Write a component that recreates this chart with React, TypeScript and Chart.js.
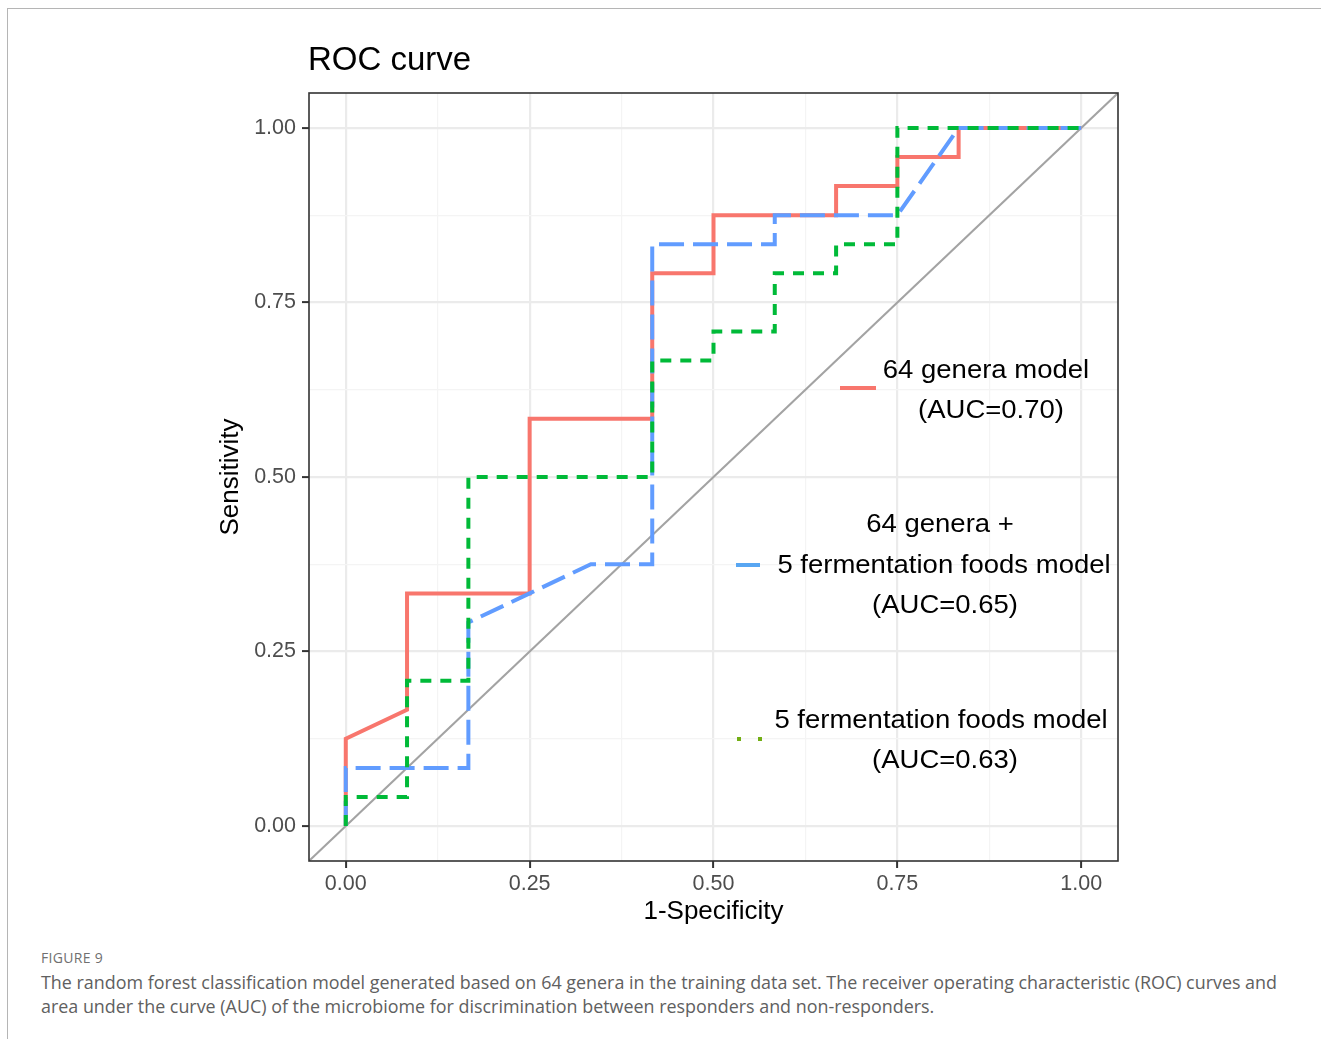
import React, { useEffect, useRef } from "react";
import { Chart, registerables } from "chart.js";

Chart.register(...registerables);

// ---- data ----
const genusFpr = [0, 0, 0.0833, 0.0833, 0.25, 0.25, 0.4167, 0.4167, 0.5, 0.5, 0.6667, 0.6667, 0.75, 0.75, 0.8333, 0.8333, 1];
const genusTpr = [0, 0.125, 0.1667, 0.3333, 0.3333, 0.5833, 0.5833, 0.7917, 0.7917, 0.875, 0.875, 0.9167, 0.9167, 0.9583, 0.9583, 1, 1];

const comboFpr = [0, 0, 0.1667, 0.1667, 0.25, 0.3333, 0.4167, 0.4167, 0.5833, 0.5833, 0.75, 0.8333, 1];
const comboTpr = [0, 0.0833, 0.0833, 0.2917, 0.3333, 0.375, 0.375, 0.8333, 0.8333, 0.875, 0.875, 1, 1];

const fermFpr = [0, 0, 0.0833, 0.0833, 0.1667, 0.1667, 0.4167, 0.4167, 0.5, 0.5, 0.5833, 0.5833, 0.6667, 0.6667, 0.75, 0.75, 1];
const fermTpr = [0, 0.0417, 0.0417, 0.2083, 0.2083, 0.5, 0.5, 0.6667, 0.6667, 0.7083, 0.7083, 0.7917, 0.7917, 0.8333, 0.8333, 1, 1];

const chanceLine = [-0.05, 1.05];
const axisRange = [-0.05, 1.05];
const majorTicks = [0, 0.25, 0.5, 0.75, 1];
const minorTicks = [0.125, 0.375, 0.625, 0.875];
const tickLabels = ["0.00", "0.25", "0.50", "0.75", "1.00"];

const genusLegend = ["64 genera model", "(AUC=0.70)"];
const comboLegend = ["64 genera +", "5 fermentation foods model", "(AUC=0.65)"];
const fermLegend = ["5 fermentation foods model", "(AUC=0.63)"];

const chartTitle = "ROC curve";
const xTitle = "1-Specificity";
const yTitle = "Sensitivity";
const figureLabel = "FIGURE 9";
const captionLines = [
  "The random forest classification model generated based on 64 genera in the training data set. The receiver operating characteristic (ROC) curves and",
  "area under the curve (AUC) of the microbiome for discrimination between responders and non-responders.",
];

const RED = "#F8766D";
const BLUE = "#619CFF";
const GREEN = "#00BA38";
const FONT = '"Liberation Sans", Arial, Helvetica, sans-serif';

const toPoints = (xs: number[], ys: number[]) => xs.map((x, i) => ({ x, y: ys[i] }));

const allTicks = [...majorTicks, ...minorTicks].sort((a, b) => a - b);
const isMajor = (v: number) => majorTicks.some((m) => Math.abs(m - v) < 1e-6);
const labelFor = (v: number) => {
  const i = majorTicks.findIndex((m) => Math.abs(m - v) < 1e-6);
  return i >= 0 ? tickLabels[i] : "";
};

const decorPlugin = {
  id: "decor",
  afterDatasetsDraw(chart: any) {
    const { ctx, chartArea } = chart;
    ctx.save();
    ctx.strokeStyle = "#333333";
    ctx.lineWidth = 1.6;
    ctx.strokeRect(chartArea.left, chartArea.top, chartArea.right - chartArea.left, chartArea.bottom - chartArea.top);
    ctx.restore();
  },
  afterDraw(chart: any) {
    const { ctx, chartArea } = chart;
    ctx.save();
    // title
    ctx.fillStyle = "#000";
    ctx.font = `33px ${FONT}`;
    ctx.textAlign = "left";
    ctx.textBaseline = "middle";
    ctx.fillText(chartTitle, chartArea.left - 1, 61);

    // legend
    const L = chartArea.left;
    const T = chartArea.top;
    const drawText = (t: string, cx: number, cy: number) => {
      ctx.save();
      ctx.translate(L + cx, T + cy);
      ctx.scale(1.1, 1);
      ctx.font = `25px ${FONT}`;
      ctx.fillStyle = "#000";
      ctx.textAlign = "center";
      ctx.textBaseline = "middle";
      ctx.fillText(t, 0, 0);
      ctx.restore();
    };
    const drawKey = (color: string, dash: number[], x1: number, x2: number, y: number) => {
      ctx.save();
      ctx.strokeStyle = color;
      ctx.lineWidth = 4;
      ctx.lineCap = "butt";
      ctx.setLineDash(dash);
      ctx.beginPath();
      ctx.moveTo(L + x1, T + y);
      ctx.lineTo(L + x2, T + y);
      ctx.stroke();
      ctx.restore();
    };
    drawKey(RED, [], 531, 567, 295);
    drawText(genusLegend[0], 677, 278);
    drawText(genusLegend[1], 682, 318);

    drawKey("#58A6F2", [], 427, 451, 472);
    drawText(comboLegend[0], 631, 432);
    drawText(comboLegend[1], 635, 473);
    drawText(comboLegend[2], 636, 513);

    drawKey("#72AE14", [4, 17], 428, 453, 646);
    drawText(fermLegend[0], 632, 628);
    drawText(fermLegend[1], 636, 668);
    ctx.restore();
  },
};

function makeScale(title: string, pad: number) {
  return {
    type: "linear" as const,
    min: axisRange[0],
    max: axisRange[1],
    afterBuildTicks: (scale: any) => {
      scale.ticks = allTicks.map((v) => ({ value: v }));
    },
    ticks: {
      autoSkip: false,
      maxRotation: 0,
      color: "#4D4D4D",
      font: { size: 21.5, family: FONT },
      padding: pad,
      callback: (v: any) => labelFor(Number(v)),
    },
    grid: {
      drawOnChartArea: true,
      drawTicks: true,
      tickLength: 7,
      color: (c: any) => (c.tick && isMajor(c.tick.value) ? "#EBEBEB" : "#F4F4F4"),
      lineWidth: (c: any) => (c.tick && isMajor(c.tick.value) ? 2.2 : 1.2),
      tickColor: (c: any) => (c.tick && isMajor(c.tick.value) ? "#333333" : "rgba(0,0,0,0)"),
      tickWidth: 2,
    },
    border: { display: false },
    title: {
      display: true,
      text: title,
      color: "#000",
      font: { size: 26, family: FONT },
      padding: { top: 0, bottom: 0 },
    },
  };
}

export default function App() {
  const ref = useRef<HTMLCanvasElement | null>(null);

  useEffect(() => {
    if (!ref.current) return;
    const xScale: any = makeScale(xTitle, 3);
    xScale.afterFit = (s: any) => {
      s.height = 66;
    };
    const yScale: any = makeScale(yTitle, 6);
    yScale.afterFit = (s: any) => {
      s.width = 94;
    };
    const chart = new Chart(ref.current, {
      type: "line",
      data: {
        datasets: [
          {
            label: "5 fermentation foods model",
            data: toPoints(fermFpr, fermTpr),
            borderColor: GREEN,
            borderWidth: 4,
            borderDash: [11, 9],
            order: 0,
          },
          {
            label: "64 genera + 5 fermentation foods model",
            data: toPoints(comboFpr, comboTpr),
            borderColor: BLUE,
            borderWidth: 4,
            borderDash: [25, 9],
            order: 1,
          },
          {
            label: "64 genera model",
            data: toPoints(genusFpr, genusTpr),
            borderColor: RED,
            borderWidth: 4,
            order: 2,
          },
          {
            label: "chance",
            data: toPoints(chanceLine, chanceLine),
            borderColor: "#A3A3A3",
            borderWidth: 2,
            order: 3,
          },
        ].map((d: any) => ({
          ...d,
          pointRadius: 0,
          pointHoverRadius: 0,
          fill: false,
          tension: 0,
          borderCapStyle: "butt",
          borderJoinStyle: "miter",
          clip: 0,
          backgroundColor: d.borderColor,
        })),
      },
      options: {
        animation: false,
        responsive: false,
        devicePixelRatio: 1,
        parsing: false as any,
        normalized: true,
        layout: { padding: { left: 215, top: 93, right: 211, bottom: 8 } },
        plugins: {
          legend: { display: false },
          title: { display: false },
          tooltip: { enabled: false },
        },
        events: [],
        scales: { x: xScale, y: yScale },
      },
      plugins: [decorPlugin],
    });
    return () => chart.destroy();
  }, []);

  return (
    <div style={{ position: "absolute", left: 0, top: 0, width: 1329, height: 1039, overflow: "hidden", background: "#fff" }}>
      <div
        style={{
          position: "absolute",
          left: 7,
          top: 8,
          width: 1313,
          height: 1100,
          borderTop: "1px solid #B5B5B5",
          borderLeft: "1px solid #B5B5B5",
        }}
      />
      <canvas ref={ref} width={1329} height={935} style={{ position: "absolute", left: 0, top: 0, width: 1329, height: 935 }} />
      <div
        style={{
          position: "absolute",
          left: 41,
          top: 950,
          fontFamily: '"Open Sans", sans-serif',
          fontSize: 14,
          lineHeight: "16px",
          letterSpacing: "0.3px",
          color: "#707070",
        }}
      >
        {figureLabel}
      </div>
      <div
        style={{
          position: "absolute",
          left: 41,
          top: 970,
          fontFamily: '"Open Sans", sans-serif',
          fontSize: 17.9,
          lineHeight: "24px",
          color: "#606060",
          whiteSpace: "nowrap",
        }}
      >
        {captionLines.map((l, i) => (
          <div key={i}>{l}</div>
        ))}
      </div>
    </div>
  );
}
